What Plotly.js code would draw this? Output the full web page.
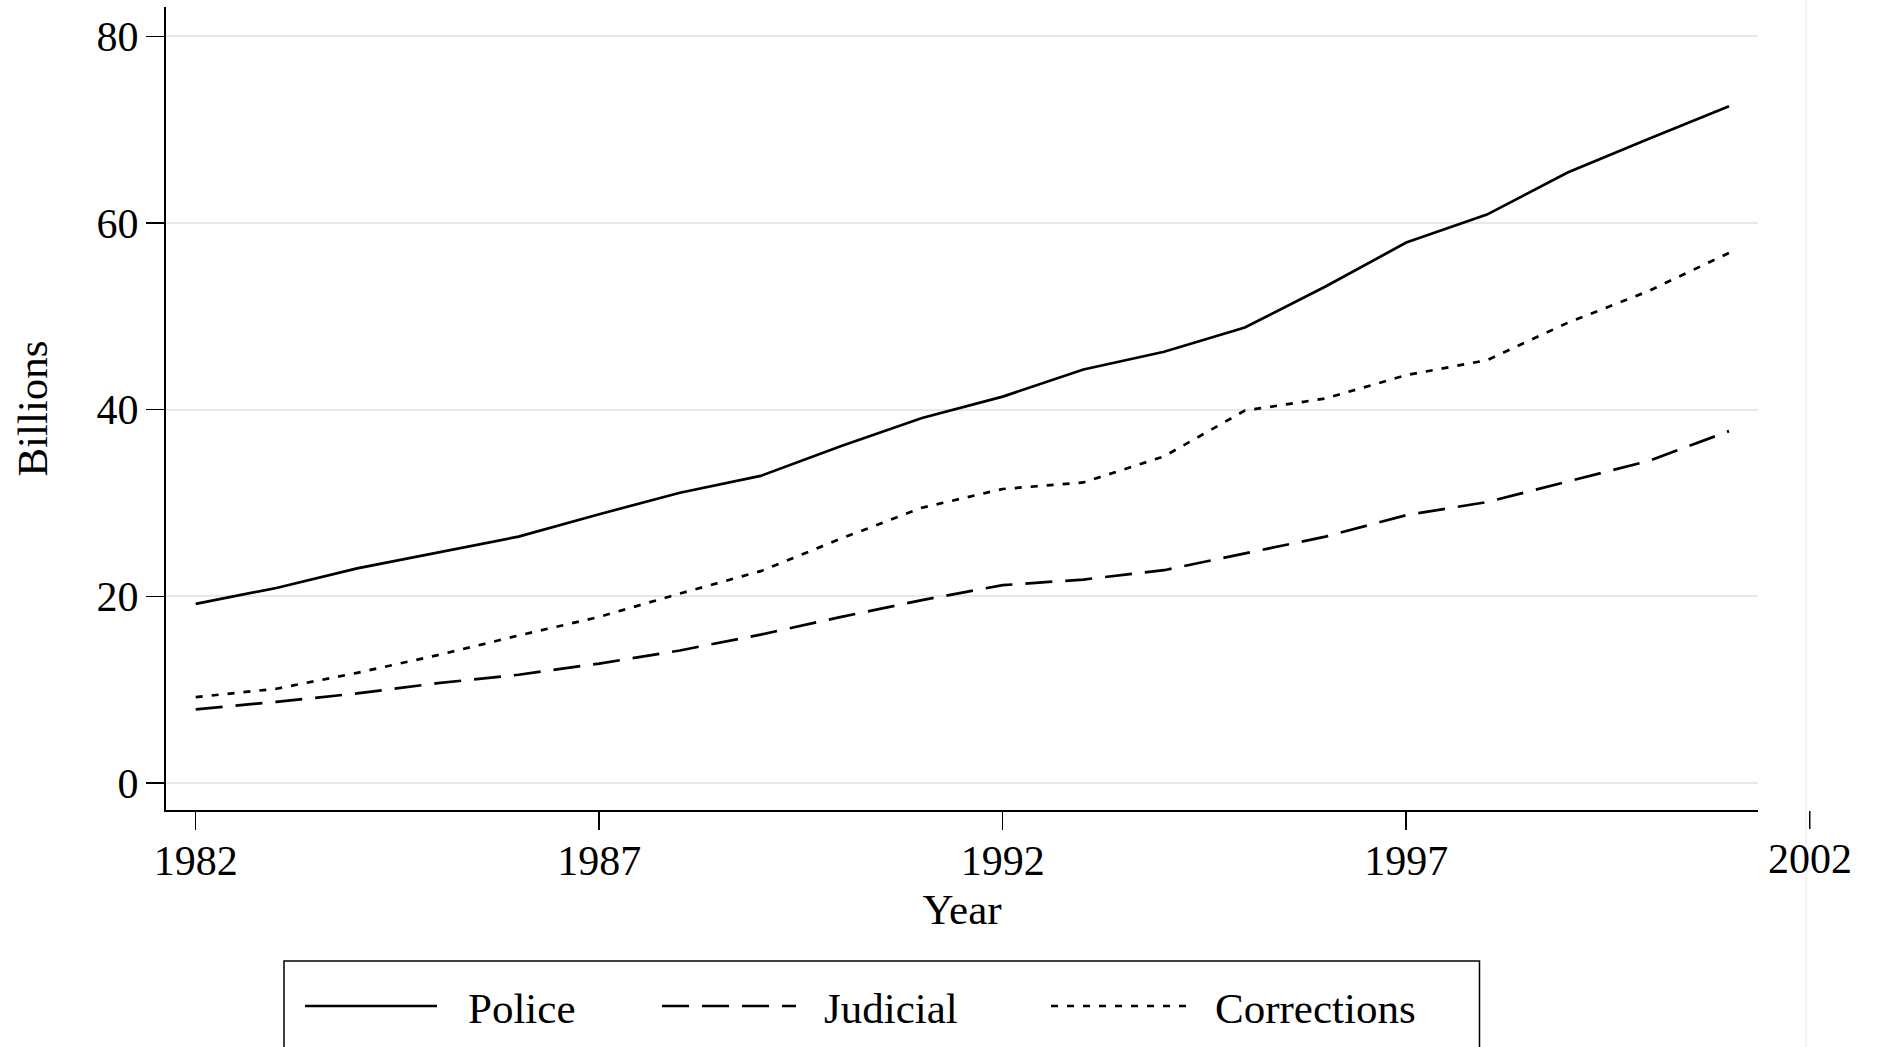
<!DOCTYPE html>
<html>
<head>
<meta charset="utf-8">
<script src="https://cdn.plot.ly/plotly-3.0.1.min.js"></script>
<style>
html,body{margin:0;padding:0;background:#fff;}
#chart{width:1877px;height:1047px;}
</style>
</head>
<body>
<div id="chart"></div>
<script>
// ---------------- data ----------------
const years = [1982,1983,1984,1985,1986,1987,1988,1989,1990,1991,1992,1993,1994,1995,1996,1997,1998,1999,2000,2001];
const police = [19.2,20.9,23.0,24.7,26.4,28.8,31.1,32.9,36.1,39.1,41.4,44.3,46.2,48.8,53.2,57.9,60.9,65.4,69.0,72.5];
const judicial = [7.9,8.7,9.6,10.7,11.6,12.8,14.2,15.9,17.8,19.6,21.2,21.8,22.8,24.6,26.4,28.7,30.1,32.3,34.5,37.7];
const corrections = [9.2,10.1,11.8,13.7,15.8,17.8,20.3,22.7,26.2,29.5,31.5,32.2,35.0,39.9,41.2,43.7,45.3,49.3,52.7,56.8];
const seriesNames = ['Police','Judicial','Corrections'];
const xTickVals = [1982,1987,1992,1997,2002];
const yTickVals = [0,20,40,60,80];
const xTitle = 'Year';
const yTitle = 'Billions';

// ---------------- geometry / style ----------------
const W = 1877, H = 1047;
const M = {l:166, r:119, t:7, b:237};
const plotW = W - M.l - M.r, plotH = H - M.t - M.b;
const X0 = 1981.632, X1 = 2001.359;
const Y0 = -2.89, Y1 = 83.14;
const FONT = '"Liberation Serif", "Times New Roman", serif';
const TICK_SIZE = 42, TITLE_SIZE = 43, LEG_SIZE = 43;
const LW = 2.7;
const dashes = ['solid', '27px,13px', '7px,9px'];
const values = [police, judicial, corrections];

const pxX = px => (px - M.l) / plotW;
const pxY = py => (H - M.b - py) / plotH;
const dataXtoPaper = x => (x - X0) / (X1 - X0);

const traces = seriesNames.map((n, i) => ({
  type: 'scatter', mode: 'lines', name: n,
  x: years, y: values[i],
  line: {color: '#000', width: LW, dash: dashes[i]},
  showlegend: false, hoverinfo: 'skip'
}));

const shapes = [];
const annotations = [];

// ticks lying beyond the plotted x range (drawn like the native ones)
xTickVals.filter(v => v > X1).forEach(v => {
  const px = dataXtoPaper(v);
  shapes.push({type:'line', xref:'paper', yref:'paper', ysizemode:'pixel', yanchor:0,
    x0:px, x1:px, y0:-1, y1:-19, line:{color:'#000', width:1.5}});
  annotations.push({xref:'paper', yref:'paper', x:px, y:0, yanchor:'top', xanchor:'center',
    yshift:-24, showarrow:false, text:String(v), font:{family:FONT, size:TICK_SIZE, color:'#000'}});
});

// faint frame edge at the right
shapes.push({type:'line', xref:'paper', yref:'paper', x0:pxX(1806), x1:pxX(1806), y0:-0.6, y1:1.2,
  line:{color:'#efefef', width:1.5}});

// legend box
shapes.push({type:'rect', xref:'paper', yref:'paper', x0:pxX(284), x1:pxX(1479.5), y0:pxY(1120), y1:pxY(961),
  line:{color:'#000', width:1.5}, fillcolor:'rgba(0,0,0,0)'});
const legY = pxY(1006);
const legTextY = pxY(1008.5);
const legItems = [
  {l0:305, l1:437, t:466},
  {l0:662, l1:796, t:822},
  {l0:1051, l1:1187, t:1213}
];
legItems.forEach((it, i) => {
  shapes.push({type:'line', xref:'paper', yref:'paper', x0:pxX(it.l0), x1:pxX(it.l1), y0:legY, y1:legY,
    line:{color:'#000', width:LW, dash:dashes[i]}});
  annotations.push({xref:'paper', yref:'paper', x:pxX(it.t), y:legTextY, xanchor:'left', yanchor:'middle',
    showarrow:false, text:seriesNames[i], font:{family:FONT, size:LEG_SIZE, color:'#000'}});
});

const layout = {
  width: W, height: H,
  margin: M,
  paper_bgcolor: '#fff', plot_bgcolor: '#fff',
  font: {family: FONT, color: '#000'},
  showlegend: false,
  xaxis: {
    range: [X0, X1], tickvals: xTickVals, ticktext: xTickVals.map(String),
    ticks: 'outside', ticklen: 18, tickwidth: 1.5, tickcolor: '#000',
    showline: true, linecolor: '#000', linewidth: 2,
    showgrid: false, zeroline: false,
    tickfont: {family: FONT, size: TICK_SIZE, color: '#000'},
    ticklabelstandoff: -5,
    title: {text: xTitle, font: {family: FONT, size: TITLE_SIZE, color: '#000'}, standoff: 10},
    fixedrange: true
  },
  yaxis: {
    range: [Y0, Y1], tickvals: yTickVals,
    ticks: 'outside', ticklen: 18, tickwidth: 1.5, tickcolor: '#000',
    showline: true, linecolor: '#000', linewidth: 2,
    showgrid: true, gridcolor: '#e8e8e8', gridwidth: 2, zeroline: false,
    tickfont: {family: FONT, size: TICK_SIZE, color: '#000'},
    ticklabelstandoff: -1,
    title: {text: yTitle, font: {family: FONT, size: TITLE_SIZE, color: '#000'}, standoff: 36},
    fixedrange: true
  },
  shapes: shapes,
  annotations: annotations
};

Plotly.newPlot('chart', traces, layout, {displayModeBar: false, staticPlot: true});
</script>
</body>
</html>
